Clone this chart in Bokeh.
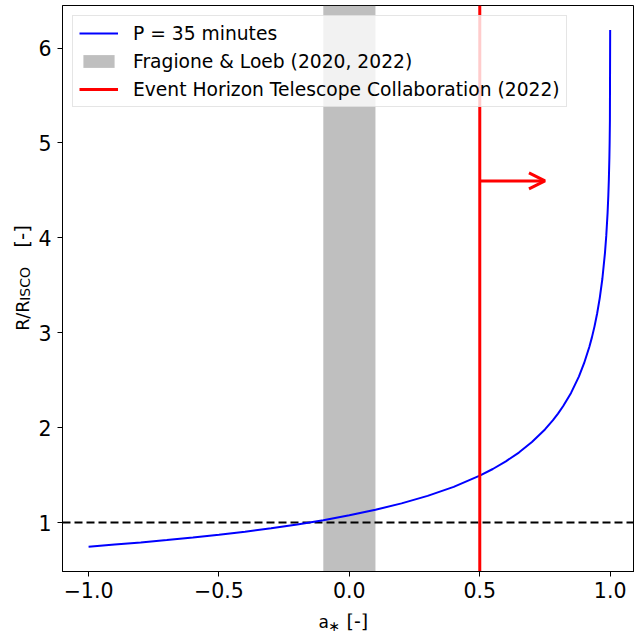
import math
from bokeh.plotting import figure
from bokeh.layouts import row, column
from bokeh.models import (Range1d, FixedTicker, Legend, LegendItem, Arrow, OpenHead)
from bokeh.core.properties import value
from bokeh.embed import file_html
from bokeh.resources import INLINE

# ---- data ----
spin = [-1.0, -0.9, -0.8, -0.7, -0.6, -0.5, -0.4, -0.3, -0.2, -0.1, 0.0,
        0.1, 0.2, 0.3, 0.4, 0.5, 0.55, 0.6, 0.65, 0.7, 0.75, 0.78, 0.8, 0.82,
        0.85, 0.88, 0.9, 0.92, 0.93, 0.94, 0.95, 0.96, 0.97, 0.98, 0.985,
        0.99, 0.993, 0.995, 0.997, 0.998, 0.999, 1.0]
r_ratio = [0.746, 0.768, 0.790, 0.815, 0.842, 0.872, 0.904, 0.940, 0.980, 1.025, 1.076,
           1.134, 1.202, 1.281, 1.376, 1.494, 1.564, 1.645, 1.737, 1.848, 1.981, 2.077,
           2.148, 2.228, 2.366, 2.538, 2.679, 2.849, 2.951, 3.067, 3.203, 3.365, 3.566,
           3.839, 4.020, 4.258, 4.450, 4.617, 4.845, 5.005, 5.237, 6.190]

band_lo, band_hi = -0.1, 0.1          # Fragione & Loeb
eht_spin = 0.5                        # EHT lower limit
eht_arrow_y = 4.6
eht_arrow_end = 0.75
isco_level = 1.0

x_ticks = [-1.0, -0.5, 0.0, 0.5, 1.0]
x_tick_labels = ["\u22121.0", "\u22120.5", "0.0", "0.5", "1.0"]
y_ticks = [1, 2, 3, 4, 5, 6]
y_tick_labels = ["1", "2", "3", "4", "5", "6"]

legend_labels = ["P = 35 minutes", "Fragione & Loeb (2020, 2022)",
                 "Event Horizon Telescope Collaboration (2022)"]

# axis title pieces (text, font size in px)
y_title = [("R/R", 17.5), ("ISCO", 14), ("[-]", 20)]
x_title = [("a", 17), ("\u2217", 14), ("[-]", 19)]

FONT = "DejaVu Sans"
DESC = 0.236   # DejaVu descent (em)

# ---- geometry ----
TOTAL_W, TOTAL_H = 634, 633
YL_W = 32                  # strip holding the y title
XL_H = 20                  # strip holding the x title
W = TOTAL_W - YL_W
H = TOTAL_H - XL_H
BL, BR, BT, BB = 30, 0, 5, 42
X0, X1 = -1.1, 1.0933
Y0, Y1 = 0.484, 6.448

p = figure(width=W, height=H, output_backend="svg", toolbar_location=None,
           x_range=Range1d(X0, X1), y_range=Range1d(Y0, Y1),
           min_border_left=BL, min_border_right=BR, min_border_top=BT,
           min_border_bottom=BB, title=None)
p.xgrid.visible = False
p.ygrid.visible = False
p.outline_line_color = "black"
p.outline_line_width = 1
p.background_fill_color = "white"
p.border_fill_color = "white"

for ax in (p.xaxis[0], p.yaxis[0]):
    ax.axis_line_color = "black"
    ax.major_tick_line_color = "black"
    ax.minor_tick_line_color = None
    ax.major_tick_out = 5
    ax.major_tick_in = 0
    ax.major_label_text_font = FONT
    ax.major_label_text_font_size = "20.5px"
    ax.major_label_text_color = "black"
p.xaxis[0].ticker = FixedTicker(ticks=x_ticks)
p.xaxis[0].major_label_overrides = {t: l for t, l in zip(x_ticks, x_tick_labels)}
p.xaxis[0].major_label_standoff = 5
p.yaxis[0].ticker = FixedTicker(ticks=y_ticks)
p.yaxis[0].major_label_overrides = {t: l for t, l in zip(y_ticks, y_tick_labels)}
p.yaxis[0].major_label_standoff = 6

# ---- marks ----
band = p.quad(left=[band_lo], right=[band_hi], bottom=[Y0], top=[Y1],
              fill_color="gray", fill_alpha=0.5, line_color=None)
p.line(x=[X0, X1], y=[isco_level, isco_level], line_color="black",
       line_width=2, line_dash="8 4")
curve = p.line(x=spin, y=r_ratio, line_color="blue", line_width=2)
eht = p.segment(x0=[eht_spin], y0=[Y0], x1=[eht_spin], y1=[Y1],
                line_color="red", line_width=3)
p.add_layout(Arrow(end=OpenHead(size=16, line_color="red", line_width=3),
                   x_start=eht_spin, y_start=eht_arrow_y,
                   x_end=eht_arrow_end, y_end=eht_arrow_y,
                   line_color="red", line_width=3))

legend = Legend(items=[LegendItem(label=legend_labels[0], renderers=[curve]),
                       LegendItem(label=legend_labels[1], renderers=[band]),
                       LegendItem(label=legend_labels[2], renderers=[eht])],
                location="top_left", margin=10, padding=6, spacing=6,
                glyph_width=39, glyph_height=16, label_height=22,
                label_standoff=15, label_text_font=FONT,
                label_text_font_size="18.7px", label_text_color="black",
                border_line_color="#cccccc", border_line_width=1,
                background_fill_color="white", background_fill_alpha=0.8)
p.add_layout(legend, "center")

# ---- title strips (pixel coordinate figures) ----
def strip(w, h):
    f = figure(width=w, height=h, output_backend="svg", toolbar_location=None,
               x_range=Range1d(0, w), y_range=Range1d(0, h),
               x_axis_type=None, y_axis_type=None, title=None,
               min_border_left=0, min_border_right=0, min_border_top=0,
               min_border_bottom=0)
    f.xgrid.visible = False
    f.ygrid.visible = False
    f.outline_line_color = None
    f.background_fill_color = "white"
    f.border_fill_color = "white"
    return f

fy = strip(YL_W, H)
# page centres (x, y) of each rotated piece; strip y runs upward
y_centres = [(22.0, 336.0), (24.8, 301.5), (21.0, 250.0)]
for (txt, size), (cx, cy) in zip(y_title, y_centres):
    fy.text(x=[cx], y=[H - cy], text=[txt], angle=math.pi / 2,
            text_font=value(FONT), text_font_size=value(f"{size}px"),
            text_color="black", text_align="center", text_baseline="middle")

fx = strip(TOTAL_W, XL_H)
x_pos = [(318, 627), (328, 630), (346, 627)]
for (txt, size), (px, py) in zip(x_title, x_pos):
    fx.text(x=[px], y=[TOTAL_H - (py + DESC * size)], text=[txt],
            text_font=value(FONT), text_font_size=value(f"{size}px"),
            text_color="black", text_align="left", text_baseline="bottom")

layout = column(row(fy, p), fx)
open("out.html", "w").write(file_html(layout, INLINE))
